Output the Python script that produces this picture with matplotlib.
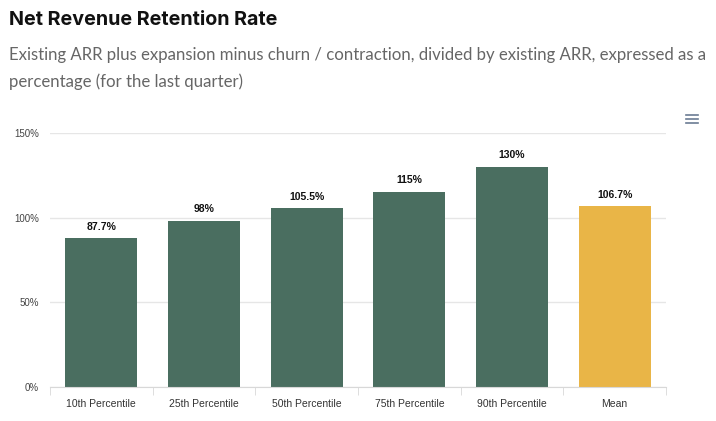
import matplotlib as mpl
mpl.use('Agg')
import matplotlib.pyplot as plt
import numpy as np

categories = ['10th Percentile', '25th Percentile', '50th Percentile',
              '75th Percentile', '90th Percentile', 'Mean']
values = [87.7, 98, 105.5, 115, 130, 106.7]
labels = ['87.7%', '98%', '105.5%', '115%', '130%', '106.7%']
y_ticks = [0, 50, 100, 150]

green = '#4a6e60'
yellow = '#e9b547'
colors = [green] * 5 + [yellow]

fig = plt.figure(figsize=(7.16, 4.21), dpi=100)
ax = fig.add_axes([0.0698, 0.0808, 0.8604, 0.6034])

x = np.arange(len(categories))
ax.bar(x, values, width=0.7, color=colors, zorder=2)

for xi, v, lab in zip(x, values, labels):
    ax.text(xi, v + 4, lab, ha='center', va='bottom', fontsize=7.5,
            fontweight='bold', family='Liberation Sans', color='#111111')

ax.set_xlim(-0.5, len(categories) - 0.5)
ax.set_ylim(0, 150)
ax.set_yticks(y_ticks)
ax.set_yticklabels([f'{t}%' for t in y_ticks], fontsize=7,
                   family='Liberation Sans', color='#444444')
ax.set_xticks(x)
ax.set_xticklabels(categories, fontsize=7.5, family='Liberation Sans',
                   color='#333333')
ax.tick_params(axis='y', length=0, pad=8)
ax.tick_params(axis='x', length=0, pad=9)
# boundary ticks between categories
ax.set_xticks(np.arange(-0.5, len(categories)), minor=True)
ax.tick_params(axis='x', which='minor', length=6, color='#d8d8d8')

ax.grid(axis='y', color='#e6e6e6', linewidth=1, zorder=0)
for s in ['top', 'right', 'left']:
    ax.spines[s].set_visible(False)
ax.spines['bottom'].set_color('#d8d8d8')

fig.text(0.012, 0.952, 'Net Revenue Retention Rate', fontsize=14.2,
         fontweight='bold', family='Inter', color='#111111', va='center')
fig.text(0.012, 0.870,
         'Existing ARR plus expansion minus churn / contraction, divided by existing ARR, expressed as a',
         fontsize=12.1, family='Lato', color='#666666', va='center')
fig.text(0.012, 0.805, 'percentage (for the last quarter)',
         fontsize=12.1, family='Lato', color='#666666', va='center')

# menu icon
for yy in [0.727, 0.717, 0.707]:
    fig.add_artist(plt.Line2D([0.958, 0.975], [yy, yy], color='#6b7c93',
                              linewidth=1.2, transform=fig.transFigure))

fig.savefig('out.png', dpi=100)
